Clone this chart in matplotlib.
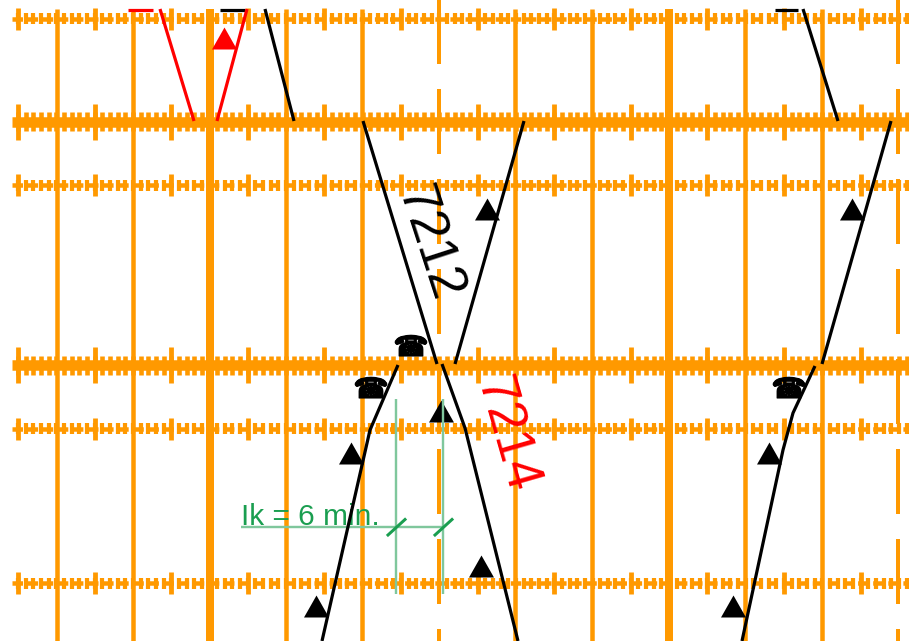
#!/usr/bin/env python3

import numpy as np
import matplotlib.pyplot as plt
import matplotlib.patheffects as pe

# everything is in picture units: x is time (7.66 units per minute), y is distance
LEFT, RIGHT, TOP, BOTTOM = 12, 909, 9, 641
ORANGE = "#ff9900"
GREEN_DARK = "#1a9e50"
GREEN_LIGHT = "#7fc79c"
PX = 0.72  # one pixel in points at dpi 100

# grid
solid_x = [56.5, 132.5, 286, 362, 515, 592, 745, 822]
thick_x = [209.5, 668.5]
dashed_x = [439, 898]
thick_rows = [121.5, 365]
thin_rows = [18.5, 185, 428.5, 583]
minute_start = 18
minute_step = 7.66

# train paths
black_paths = [
    ([265, 294], [9, 121]),
    ([363, 437], [121, 364]),
    ([524, 455], [121, 364]),
    ([398, 370, 322], [365, 430, 641]),
    ([442, 465, 518], [364, 428, 641]),
    ([803, 838], [9, 121]),
    ([891, 822], [121, 364]),
    ([815, 793, 783, 742], [366, 413, 450, 641]),
    ([220, 245], [10, 10]),
    ([775, 798], [10, 10]),
]
red_paths = [
    ([160, 194], [9, 121]),
    ([247, 217], [9, 121]),
    ([128, 153], [10, 10]),
]

# symbols
black_tri_x = [487, 852, 441, 351, 769, 481, 316, 733]
black_tri_y = [209, 209, 411, 453, 453, 566, 606, 606]
red_tri_x = [224]
red_tri_y = [38]
phone_x = [411, 371, 789]
phone_y = [348, 390, 390]

# train numbers
train_labels = ["7212", "7214"]
train_label_x = [429, 506]
train_label_y = [243, 435]
train_label_rot = [-72, -74]
train_label_col = ["black", "red"]

# headway annotation
headway_x = [396, 443]
headway_y0, headway_y1 = 399, 594
headway_line_y = 527
headway_line_x0 = 241
headway_text = "Ik = 6 min."

plt.rcParams["lines.scale_dashes"] = False

fig = plt.figure(figsize=(9.09, 6.41), dpi=100)
ax = fig.add_axes([0, 0, 1, 1])
ax.set_xlim(0, 909)
ax.set_ylim(641, 0)
ax.axis("off")

# vertical grid
ax.vlines(solid_x, TOP, BOTTOM, color=ORANGE, lw=4.5 * PX)
ax.vlines(thick_x, TOP, BOTTOM, color=ORANGE, lw=8 * PX)
for x in dashed_x:
    ax.plot(
        [x, x],
        [-34, BOTTOM],
        color=ORANGE,
        lw=4 * PX,
        linestyle=(0, (65 * PX, 25 * PX)),
        dash_capstyle="butt",
    )
ax.axhspan(0, TOP, color="white", zorder=1.5)

# minute ticks along the rows
minutes = np.arange(minute_start, RIGHT + 1, minute_step)
minutes = minutes[minutes >= LEFT]
long_minutes = minutes[::10]
for y in thick_rows:
    ax.hlines(y, LEFT, RIGHT, color=ORANGE, lw=10.5 * PX)
    ax.vlines(minutes, y - 9.5, y + 9.5, color=ORANGE, lw=4.6 * PX)
    ax.vlines(long_minutes, y - 18, y + 18, color=ORANGE, lw=4.8 * PX)
for y in thin_rows:
    ax.plot(
        [LEFT, RIGHT],
        [y, y],
        color=ORANGE,
        lw=4.5 * PX,
        linestyle=(0, (10.5 * PX, 4.6 * PX)),
        dash_capstyle="butt",
    )
    ax.vlines(minutes, y - 5.5, y + 5.5, color=ORANGE, lw=4.2 * PX)
    ax.vlines(long_minutes, y - 11, y + 11, color=ORANGE, lw=4.8 * PX)

# headway annotation
ax.vlines(headway_x, headway_y0, headway_y1, color=GREEN_LIGHT, lw=2.4 * PX, zorder=3)
ax.hlines(headway_line_y, headway_line_x0, headway_x[1], color=GREEN_LIGHT, lw=2.4 * PX, zorder=3)
for x in headway_x:
    ax.plot([x - 8, x + 9], [535, 519.5], color=GREEN_DARK, lw=3 * PX, zorder=3)
ax.text(
    headway_line_x0,
    525,
    headway_text,
    color=GREEN_DARK,
    fontsize=21.5,
    family="Liberation Sans",
    ha="left",
    va="baseline",
    zorder=3,
)

# trains
for xs, ys in black_paths:
    ax.plot(xs, ys, color="black", lw=3.2 * PX, solid_capstyle="butt", zorder=4)
for xs, ys in red_paths:
    ax.plot(xs, ys, color="red", lw=3.2 * PX, solid_capstyle="butt", zorder=4)

tri = [(-12.5, -11), (12.5, -11), (0, 11)]
ax.plot(black_tri_x, black_tri_y, ls="none", marker=tri, ms=25 * PX, color="black", mew=0, zorder=2.5)
ax.plot(red_tri_x, red_tri_y, ls="none", marker=tri, ms=25 * PX, color="red", mew=0, zorder=4)

for x, y in zip(phone_x, phone_y):
    ax.text(
        x,
        y,
        "\u260e",
        fontsize=20.5,
        family="DejaVu Sans",
        color="black",
        ha="center",
        va="center",
        zorder=5,
        path_effects=[pe.withStroke(linewidth=0.8, foreground="black")],
    )

for label, x, y, rot, col in zip(train_labels, train_label_x, train_label_y, train_label_rot, train_label_col):
    ax.text(
        x,
        y,
        label,
        color=col,
        rotation=rot,
        rotation_mode="anchor",
        fontsize=38,
        family="Liberation Sans",
        ha="center",
        va="center",
        zorder=5,
    )

fig.savefig("out.png", dpi=100)
